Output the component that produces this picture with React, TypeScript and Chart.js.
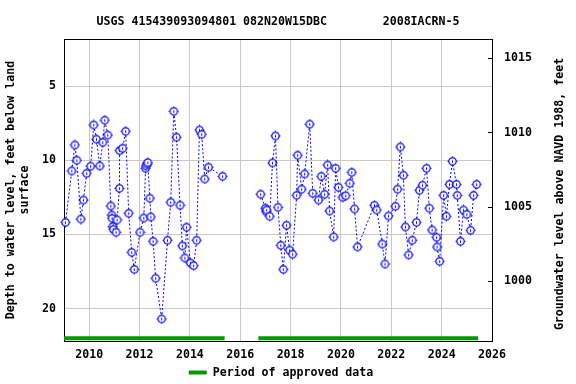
import React, { useEffect, useRef } from "react";
import { Chart, registerables } from "chart.js";

Chart.register(...registerables);

const TITLE = "USGS 415439093094801 082N20W15DBC        2008IACRN-5";
const LEFT_TITLE = ["Depth to water level, feet below land", "surface"];
const RIGHT_TITLE = "Groundwater level above NAVD 1988, feet";
const LEGEND_LABEL = "Period of approved data";

const X_TICKS = [2010, 2012, 2014, 2016, 2018, 2020, 2022, 2024, 2026];
const DEPTH_TICKS = [5, 10, 15, 20];
const ELEV_TICKS = [1000, 1005, 1010, 1015];
const X_MIN = 2009;
const X_MAX = 2026;
const DEPTH_MIN = 1.83;
const DEPTH_MAX = 22.18;
const DATUM = 1018.13; // elevation = DATUM - depth

// First run of measurements (2009 - 2015)
const YEARS_A = [
  2009.06, 2009.31, 2009.43, 2009.51, 2009.67, 2009.77, 2009.9, 2010.06, 2010.18, 2010.29,
  2010.42, 2010.54, 2010.62, 2010.74, 2010.86, 2010.9, 2010.91, 2010.94, 2010.96, 2011.07,
  2011.11, 2011.2, 2011.21, 2011.33, 2011.45, 2011.57, 2011.69, 2011.79, 2012.02, 2012.17,
  2012.24, 2012.26, 2012.3, 2012.33, 2012.41, 2012.45, 2012.54, 2012.64, 2012.88, 2013.11,
  2013.24, 2013.36, 2013.47, 2013.61, 2013.7, 2013.8, 2013.87, 2014.02, 2014.15, 2014.27,
  2014.38, 2014.47, 2014.59, 2014.74, 2015.3,
];
const DEPTHS_A = [
  14.18, 10.72, 8.97, 10.0, 13.96, 12.68, 10.88, 10.4, 7.62, 8.58,
  10.38, 8.79, 7.3, 8.3, 13.08, 13.69, 13.91, 14.47, 14.65, 14.85,
  14.02, 11.89, 9.35, 9.19, 8.05, 13.57, 16.2, 17.35, 14.85, 13.89,
  10.54, 10.38, 10.25, 10.16, 12.56, 13.82, 15.46, 17.95, 20.69, 15.39,
  12.83, 6.7, 8.45, 13.03, 15.77, 16.58, 14.51, 16.92, 17.1, 15.39,
  7.96, 8.25, 11.26, 10.47, 11.08,
];

// Second run of measurements (2016 - 2025)
const YEARS_B = [
  2016.81, 2017.0, 2017.03, 2017.05, 2017.17, 2017.28, 2017.4, 2017.5, 2017.61, 2017.71,
  2017.84, 2017.96, 2018.08, 2018.24, 2018.28, 2018.44, 2018.56, 2018.76, 2018.88, 2019.11,
  2019.22, 2019.35, 2019.47, 2019.55, 2019.71, 2019.79, 2019.9, 2020.07, 2020.19, 2020.35,
  2020.43, 2020.54, 2020.66, 2021.33, 2021.42, 2021.64, 2021.75, 2021.89, 2022.16, 2022.25,
  2022.36, 2022.48, 2022.56, 2022.69, 2022.83, 2023.0, 2023.12, 2023.24, 2023.4, 2023.51,
  2023.62, 2023.8, 2023.82, 2023.92, 2024.08, 2024.19, 2024.31, 2024.43, 2024.59, 2024.62,
  2024.75, 2024.87, 2025.0, 2025.15, 2025.27, 2025.39,
];
const DEPTHS_B = [
  12.29, 13.23, 13.46, 13.35, 13.77, 10.18, 8.36, 13.17, 15.73, 17.35,
  14.38, 16.06, 16.33, 12.36, 9.66, 11.95, 10.92, 7.57, 12.22, 12.68,
  11.08, 12.29, 10.32, 13.42, 15.17, 10.54, 11.82, 12.49, 12.39, 11.55,
  10.81, 13.28, 15.84, 13.03, 13.35, 15.64, 16.99, 13.75, 13.1, 11.95,
  9.1, 11.01, 14.49, 16.38, 15.39, 14.18, 12.02, 11.68, 10.54, 13.23,
  14.7, 15.19, 15.84, 16.81, 12.36, 13.77, 11.62, 10.07, 11.62, 12.36,
  15.46, 13.35, 13.64, 14.72, 12.36, 11.62,
];

// Approved-data periods (start / end, decimal years)
const APPROVED_START = [2009.0, 2016.72];
const APPROVED_END = [2015.38, 2025.45];
const APPROVED_LEVEL = 22.0;

const FONT_FAMILY = "'DejaVu Sans Mono', 'Liberation Mono', monospace";
const FONT_SIZE = 11.6;
const BLUE = "#0000ff";
const GREEN = "#009900";
const GRID = "#c8c8c8";

function makeMarker(): HTMLCanvasElement {
  const c = document.createElement("canvas");
  c.width = 11;
  c.height = 11;
  const g = c.getContext("2d")!;
  g.strokeStyle = BLUE;
  g.fillStyle = "#ffffff";
  g.lineWidth = 1.2;
  g.beginPath();
  g.arc(5.5, 5.5, 3.7, 0, Math.PI * 2);
  g.fill();
  g.stroke();
  g.lineWidth = 1;
  g.beginPath();
  g.moveTo(5.5, 4.5);
  g.lineTo(5.5, 7);
  g.moveTo(5.5, 0.5);
  g.lineTo(5.5, 1.8);
  g.moveTo(5.5, 9.2);
  g.lineTo(5.5, 10.5);
  g.moveTo(0.5, 5.5);
  g.lineTo(1.8, 5.5);
  g.moveTo(9.2, 5.5);
  g.lineTo(10.5, 5.5);
  g.stroke();
  return c;
}

const decorPlugin = {
  id: "decor",
  beforeDatasetsDraw(chart: any) {
    const { ctx, chartArea: ca } = chart;
    ctx.save();
    ctx.strokeStyle = "#000";
    ctx.lineWidth = 1;
    ctx.strokeRect(ca.left + 0.5, ca.top + 0.5, ca.right - ca.left, ca.bottom - ca.top);
    const y2 = chart.scales.y2;
    ctx.beginPath();
    for (const v of ELEV_TICKS) {
      const py = Math.round(y2.getPixelForValue(v)) + 0.5;
      ctx.moveTo(ca.right - 4, py);
      ctx.lineTo(ca.right + 0.5, py);
    }
    ctx.stroke();
    ctx.restore();
  },
  afterDraw(chart: any) {
    const { ctx, chartArea: ca } = chart;
    const font = `bold ${FONT_SIZE}px ${FONT_FAMILY}`;
    ctx.save();
    const cx = (ca.left + ca.right) / 2;
    ctx.fillStyle = "#000";
    ctx.font = font;
    ctx.textAlign = "center";
    ctx.textBaseline = "middle";
    ctx.fillText(TITLE, cx, 22);
    // right axis title
    ctx.save();
    ctx.translate(560, 194);
    ctx.rotate(-Math.PI / 2);
    ctx.fillText(RIGHT_TITLE, 0, 0);
    ctx.restore();
    // legend
    const tw = ctx.measureText(LEGEND_LABEL).width;
    const sw = 18;
    const gap = 6;
    const start = cx - (sw + gap + tw) / 2 + 3;
    const ly = 372.5;
    ctx.strokeStyle = GREEN;
    ctx.lineWidth = 4;
    ctx.beginPath();
    ctx.moveTo(start, ly);
    ctx.lineTo(start + sw, ly);
    ctx.stroke();
    ctx.textAlign = "left";
    ctx.fillText(LEGEND_LABEL, start + sw + gap, ly);
    ctx.restore();
  },
};

export default function App() {
  const ref = useRef<HTMLCanvasElement | null>(null);

  useEffect(() => {
    if (!ref.current) return;
    const marker = makeMarker();
    const measured: any[] = [];
    YEARS_A.forEach((x, i) => measured.push({ x, y: DEPTHS_A[i] }));
    measured.push({ x: (YEARS_A[YEARS_A.length - 1] + YEARS_B[0]) / 2, y: null });
    YEARS_B.forEach((x, i) => measured.push({ x, y: DEPTHS_B[i] }));

    const approved: any[] = [];
    APPROVED_START.forEach((s, i) => {
      if (i > 0) approved.push({ x: (APPROVED_END[i - 1] + s) / 2, y: null });
      approved.push({ x: s, y: APPROVED_LEVEL });
      approved.push({ x: APPROVED_END[i], y: APPROVED_LEVEL });
    });

    const tickFont = { family: FONT_FAMILY, size: FONT_SIZE, weight: "bold" as const };

    const chart = new Chart(ref.current, {
      type: "line",
      data: {
        datasets: [
          {
            label: LEGEND_LABEL,
            data: approved,
            borderColor: GREEN,
            borderWidth: 4,
            pointRadius: 0,
            borderCapStyle: "butt",
            yAxisID: "y",
            spanGaps: false,
          },
          {
            label: "Depth to water level",
            data: measured,
            borderColor: BLUE,
            borderWidth: 1,
            borderDash: [2, 2],
            pointStyle: marker as any,
            pointRadius: 4,
            yAxisID: "y",
            spanGaps: false,
            tension: 0,
            clip: 8,
          },
        ],
      },
      options: {
        animation: false,
        responsive: false,
        maintainAspectRatio: false,
        layout: { padding: { top: 39, left: 0, right: 0, bottom: 0 } },
        plugins: {
          legend: { display: false },
          title: { display: false },
          tooltip: { enabled: false },
        },
        scales: {
          x: {
            type: "linear",
            position: "bottom",
            min: X_MIN,
            max: X_MAX,
            afterBuildTicks: (s: any) => {
              s.ticks = X_TICKS.map((v) => ({ value: v }));
            },
            afterFit: (s: any) => {
              s.height = 43;
            },
            ticks: {
              font: tickFont,
              color: "#000",
              padding: 7,
              maxRotation: 0,
              autoSkip: false,
              callback: (v: any) => String(v),
            },
            grid: { color: GRID, drawTicks: false },
            border: { display: false },
          },
          y: {
            type: "linear",
            position: "left",
            reverse: true,
            min: DEPTH_MIN,
            max: DEPTH_MAX,
            afterBuildTicks: (s: any) => {
              s.ticks = DEPTH_TICKS.map((v) => ({ value: v }));
            },
            afterFit: (s: any) => {
              s.width = 64;
            },
            ticks: { font: tickFont, color: "#000", padding: 8, callback: (v: any) => String(v) },
            grid: { color: GRID, drawTicks: false },
            border: { display: false },
            title: {
              display: true,
              text: LEFT_TITLE,
              color: "#000",
              font: { ...tickFont, lineHeight: 1.22 },
              padding: { top: 4, bottom: 0 },
            },
          },
          y2: {
            type: "linear",
            position: "right",
            min: DATUM - DEPTH_MAX,
            max: DATUM - DEPTH_MIN,
            afterBuildTicks: (s: any) => {
              s.ticks = ELEV_TICKS.map((v) => ({ value: v }));
            },
            afterFit: (s: any) => {
              s.width = 84;
            },
            ticks: { font: tickFont, color: "#000", padding: 12, callback: (v: any) => String(v) },
            grid: { drawOnChartArea: false, drawTicks: false },
            border: { display: false },
          },
        },
      },
      plugins: [decorPlugin],
    });
    return () => chart.destroy();
  }, []);

  return (
    <div style={{ position: "fixed", left: 0, top: 0, width: 576, height: 384, background: "#fff" }}>
      <canvas ref={ref} width={576} height={384} style={{ width: 576, height: 384, display: "block" }} />
    </div>
  );
}
